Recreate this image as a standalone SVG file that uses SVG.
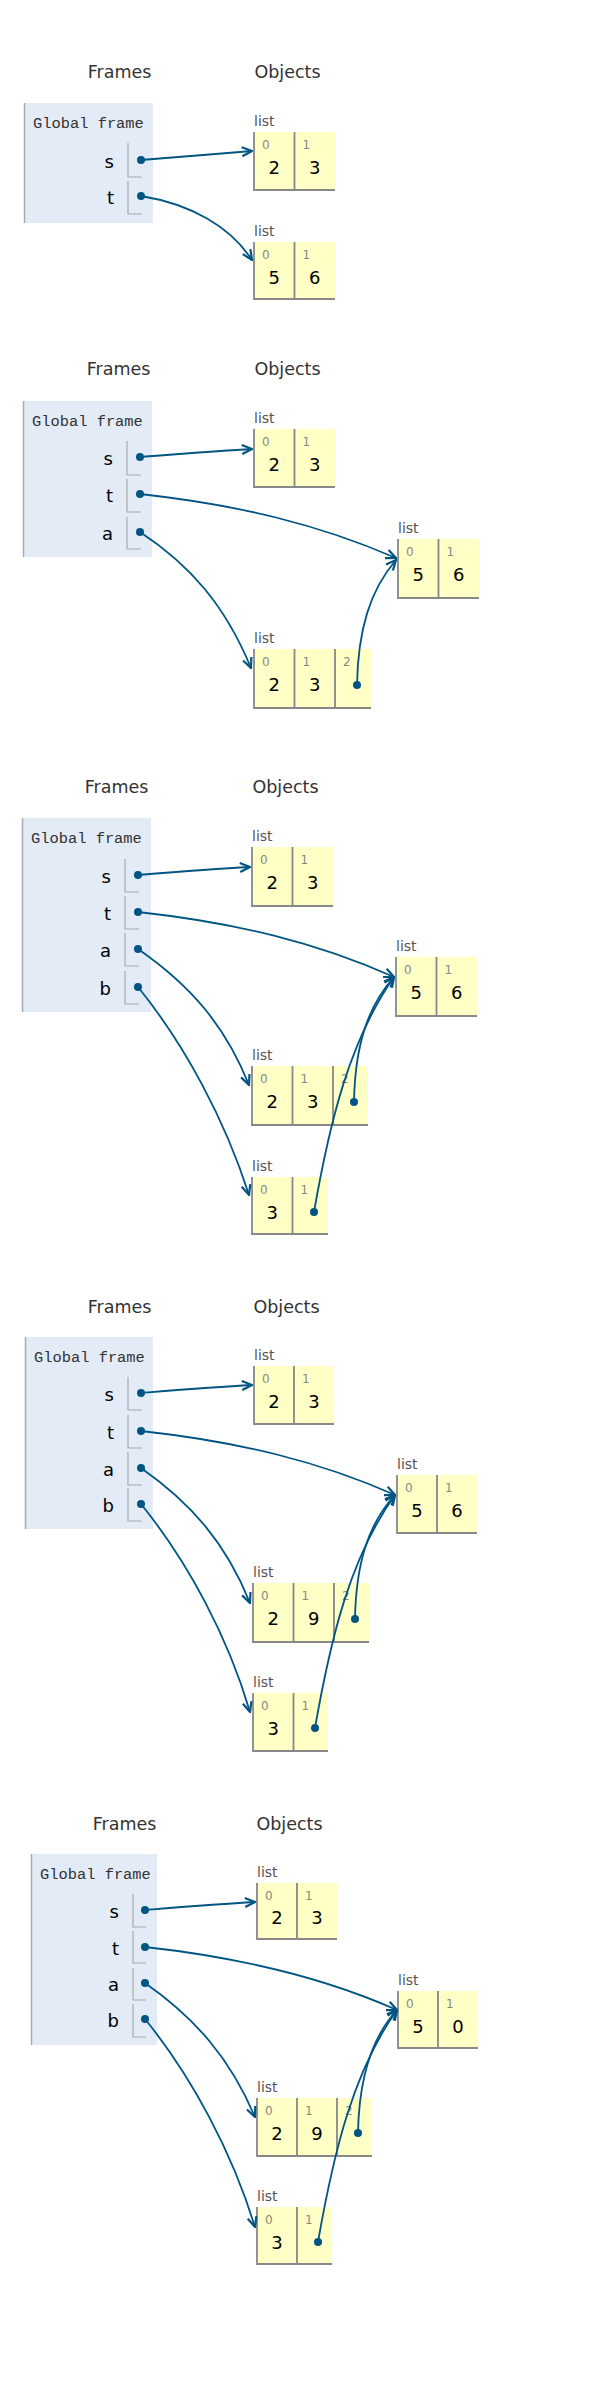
<svg xmlns="http://www.w3.org/2000/svg" width="600" height="2400" viewBox="0 0 600 2400">
<defs>
<marker id="arr" viewBox="0 0 12 12" refX="11" refY="6" markerWidth="12" markerHeight="12" markerUnits="userSpaceOnUse" orient="auto">
<path d="M1,1.5 L11,6 L1,10.5" fill="none" stroke="#005583" stroke-width="2.2" stroke-linejoin="miter"/>
</marker>
</defs>
<style>
.hdr{font-family:"DejaVu Sans",Verdana,sans-serif;font-size:17.5px;fill:#333;text-anchor:middle}
.gf{font-family:"Liberation Mono",monospace;font-size:15.4px;fill:#333}
.frame{fill:#e2ebf6}
.fl{stroke:#aaa;stroke-width:1.5}
.var{font-family:"DejaVu Sans",sans-serif;font-size:18px;fill:#000;text-anchor:end}
.vb{fill:none;stroke:#aaa;stroke-width:1.2}
.lbl{font-family:"DejaVu Sans",sans-serif;font-size:14px;fill:#555}
.cell{fill:#ffffc6}
.cb{fill:none;stroke:#888;stroke-width:1.8}
.idx{font-family:"DejaVu Sans",sans-serif;font-size:12px;fill:#888}
.val{font-family:"DejaVu Sans",sans-serif;font-size:18px;fill:#000;text-anchor:middle}
.ptr{fill:#005583}
.conn path{fill:none;stroke:#005583;stroke-width:1.8;marker-end:url(#arr)}
</style>
<rect width="600" height="2400" fill="#fff"/>

<!-- ================= Panel 1 ================= -->
<g id="p1-headers"><text class="hdr" x="119.5" y="78">Frames</text><text class="hdr" x="287.5" y="78">Objects</text></g>
<g id="p1-frame">
<rect class="frame" x="24" y="103" width="129" height="120"/><line class="fl" x1="24.5" y1="103" x2="24.5" y2="223"/>
<text class="gf" x="33" y="128">Global frame</text>
<text class="var" x="114" y="168">s</text><path class="vb" d="M128,143 V177 H142"/><circle class="ptr" cx="141" cy="160" r="4"/>
<text class="var" x="114" y="204">t</text><path class="vb" d="M128,181 V214 H142"/><circle class="ptr" cx="141" cy="196" r="4"/>
</g>
<g id="p1-list-s">
<text class="lbl" x="254" y="126">list</text>
<rect class="cell" x="254" y="132" width="81" height="58"/><path class="cb" d="M254,132 V190 H335 M294.5,132 V190"/>
<text class="idx" x="262" y="149">0</text><text class="idx" x="302.5" y="149">1</text>
<text class="val" x="274.25" y="174">2</text><text class="val" x="314.75" y="174">3</text>
</g>
<g id="p1-list-t">
<text class="lbl" x="254" y="236">list</text>
<rect class="cell" x="254" y="242" width="81" height="57"/><path class="cb" d="M254,242 V299 H335 M294.5,242 V299"/>
<text class="idx" x="262" y="259">0</text><text class="idx" x="302.5" y="259">1</text>
<text class="val" x="274.25" y="284">5</text><text class="val" x="314.75" y="284">6</text>
</g>
<g id="p1-connectors" class="conn">
<path d="M141,160 C180,157 215,154 252,151"/>
<path d="M141,196 C190,204 230,226 252,260"/>
</g>

<!-- ================= Panel 2 ================= -->
<g id="p2-headers"><text class="hdr" x="118.5" y="375">Frames</text><text class="hdr" x="287.5" y="375">Objects</text></g>
<g id="p2-frame">
<rect class="frame" x="23" y="401" width="129" height="156"/><line class="fl" x1="23.5" y1="401" x2="23.5" y2="557"/>
<text class="gf" x="32" y="426">Global frame</text>
<text class="var" x="113" y="465">s</text><path class="vb" d="M127,441 V475 H141"/><circle class="ptr" cx="140" cy="457" r="4"/>
<text class="var" x="113" y="502">t</text><path class="vb" d="M127,479 V512 H141"/><circle class="ptr" cx="140" cy="494" r="4"/>
<text class="var" x="113" y="540">a</text><path class="vb" d="M127,517 V549 H141"/><circle class="ptr" cx="140" cy="532" r="4"/>
</g>
<g id="p2-list-s">
<text class="lbl" x="254" y="423">list</text>
<rect class="cell" x="254" y="429" width="81" height="58"/><path class="cb" d="M254,429 V487 H335 M294.5,429 V487"/>
<text class="idx" x="262" y="446">0</text><text class="idx" x="302.5" y="446">1</text>
<text class="val" x="274.25" y="471">2</text><text class="val" x="314.75" y="471">3</text>
</g>
<g id="p2-list-t">
<text class="lbl" x="398" y="533">list</text>
<rect class="cell" x="398" y="539" width="81" height="59"/><path class="cb" d="M398,539 V598 H479 M438.5,539 V598"/>
<text class="idx" x="406" y="556">0</text><text class="idx" x="446.5" y="556">1</text>
<text class="val" x="418.25" y="581">5</text><text class="val" x="458.75" y="581">6</text>
</g>
<g id="p2-list-a">
<text class="lbl" x="254" y="643">list</text>
<rect class="cell" x="254" y="649" width="117" height="59"/><path class="cb" d="M254,649 V708 H371 M294.5,649 V708 M335,649 V708"/>
<text class="idx" x="262" y="666">0</text><text class="idx" x="302.5" y="666">1</text><text class="idx" x="343" y="666">2</text>
<text class="val" x="274.25" y="691">2</text><text class="val" x="314.75" y="691">3</text>
<circle class="ptr" cx="357" cy="685" r="4"/>
</g>
<g id="p2-connectors" class="conn">
<path d="M140,457 C180,454 215,451 252,449"/>
<path d="M140,494 C240,505 320,525 396,558"/>
<path d="M140,532 C190,565 225,605 251,668"/>
<path d="M357,685 C358,630 370,590 396,560"/>
</g>

<!-- ================= Panel 3 ================= -->
<g id="p3-headers"><text class="hdr" x="116.5" y="793">Frames</text><text class="hdr" x="285.5" y="793">Objects</text></g>
<g id="p3-frame">
<rect class="frame" x="22" y="818" width="129" height="194"/><line class="fl" x1="22.5" y1="818" x2="22.5" y2="1012"/>
<text class="gf" x="31" y="843">Global frame</text>
<text class="var" x="111" y="883">s</text><path class="vb" d="M125,859 V892 H139"/><circle class="ptr" cx="138" cy="875" r="4"/>
<text class="var" x="111" y="920">t</text><path class="vb" d="M125,896 V929 H139"/><circle class="ptr" cx="138" cy="912" r="4"/>
<text class="var" x="111" y="957">a</text><path class="vb" d="M125,933 V966 H139"/><circle class="ptr" cx="138" cy="949" r="4"/>
<text class="var" x="111" y="995">b</text><path class="vb" d="M125,971 V1004 H139"/><circle class="ptr" cx="138" cy="987" r="4"/>
</g>
<g id="p3-list-s">
<text class="lbl" x="252" y="841">list</text>
<rect class="cell" x="252" y="847" width="81" height="59"/><path class="cb" d="M252,847 V906 H333 M292.5,847 V906"/>
<text class="idx" x="260" y="864">0</text><text class="idx" x="300.5" y="864">1</text>
<text class="val" x="272.25" y="889">2</text><text class="val" x="312.75" y="889">3</text>
</g>
<g id="p3-list-t">
<text class="lbl" x="396" y="951">list</text>
<rect class="cell" x="396" y="957" width="81" height="59"/><path class="cb" d="M396,957 V1016 H477 M436.5,957 V1016"/>
<text class="idx" x="404" y="974">0</text><text class="idx" x="444.5" y="974">1</text>
<text class="val" x="416.25" y="999">5</text><text class="val" x="456.75" y="999">6</text>
</g>
<g id="p3-list-a">
<text class="lbl" x="252" y="1060">list</text>
<rect class="cell" x="252" y="1066" width="116" height="59"/><path class="cb" d="M252,1066 V1125 H368 M292.5,1066 V1125 M333,1066 V1125"/>
<text class="idx" x="260" y="1083">0</text><text class="idx" x="300.5" y="1083">1</text><text class="idx" x="341" y="1083">2</text>
<text class="val" x="272.25" y="1108">2</text><text class="val" x="312.75" y="1108">3</text>
<circle class="ptr" cx="354" cy="1102" r="4"/>
</g>
<g id="p3-list-b">
<text class="lbl" x="252" y="1171">list</text>
<rect class="cell" x="252" y="1177" width="76" height="57"/><path class="cb" d="M252,1177 V1234 H328 M292.5,1177 V1234"/>
<text class="idx" x="260" y="1194">0</text><text class="idx" x="300.5" y="1194">1</text>
<text class="val" x="272.25" y="1219">3</text>
<circle class="ptr" cx="314" cy="1212" r="4"/>
</g>
<g id="p3-connectors" class="conn">
<path d="M138,875 C175,872 212,869 250,867"/>
<path d="M138,912 C238,923 318,943 394,977"/>
<path d="M138,949 C190,985 225,1025 249,1085"/>
<path d="M138,987 C185,1045 225,1120 249,1195"/>
<path d="M354,1102 C355,1047 367,1007 394,977"/>
<path d="M314,1212 C330,1120 350,1040 394,977"/>
</g>

<!-- ================= Panel 4 ================= -->
<g id="p4-headers"><text class="hdr" x="119.5" y="1313">Frames</text><text class="hdr" x="286.5" y="1313">Objects</text></g>
<g id="p4-frame">
<rect class="frame" x="25" y="1337" width="128" height="192"/><line class="fl" x1="25.5" y1="1337" x2="25.5" y2="1529"/>
<text class="gf" x="34" y="1362">Global frame</text>
<text class="var" x="114" y="1401">s</text><path class="vb" d="M128,1377 V1410 H142"/><circle class="ptr" cx="141" cy="1393" r="4"/>
<text class="var" x="114" y="1439">t</text><path class="vb" d="M128,1415 V1448 H142"/><circle class="ptr" cx="141" cy="1431" r="4"/>
<text class="var" x="114" y="1476">a</text><path class="vb" d="M128,1452 V1485 H142"/><circle class="ptr" cx="141" cy="1468" r="4"/>
<text class="var" x="114" y="1512">b</text><path class="vb" d="M128,1488 V1521 H142"/><circle class="ptr" cx="141" cy="1504" r="4"/>
</g>
<g id="p4-list-s">
<text class="lbl" x="254" y="1360">list</text>
<rect class="cell" x="254" y="1366" width="80" height="58"/><path class="cb" d="M254,1366 V1424 H334 M294,1366 V1424"/>
<text class="idx" x="262" y="1383">0</text><text class="idx" x="302" y="1383">1</text>
<text class="val" x="274" y="1408">2</text><text class="val" x="314" y="1408">3</text>
</g>
<g id="p4-list-t">
<text class="lbl" x="397" y="1469">list</text>
<rect class="cell" x="397" y="1475" width="80" height="58"/><path class="cb" d="M397,1475 V1533 H477 M437,1475 V1533"/>
<text class="idx" x="405" y="1492">0</text><text class="idx" x="445" y="1492">1</text>
<text class="val" x="417" y="1517">5</text><text class="val" x="457" y="1517">6</text>
</g>
<g id="p4-list-a">
<text class="lbl" x="253" y="1577">list</text>
<rect class="cell" x="253" y="1583" width="116" height="59"/><path class="cb" d="M253,1583 V1642 H369 M293.5,1583 V1642 M334,1583 V1642"/>
<text class="idx" x="261" y="1600">0</text><text class="idx" x="301.5" y="1600">1</text><text class="idx" x="342" y="1600">2</text>
<text class="val" x="273.25" y="1625">2</text><text class="val" x="313.75" y="1625">9</text>
<circle class="ptr" cx="355" cy="1619" r="4"/>
</g>
<g id="p4-list-b">
<text class="lbl" x="253" y="1687">list</text>
<rect class="cell" x="253" y="1693" width="75" height="58"/><path class="cb" d="M253,1693 V1751 H328 M293.5,1693 V1751"/>
<text class="idx" x="261" y="1710">0</text><text class="idx" x="301.5" y="1710">1</text>
<text class="val" x="273.25" y="1735">3</text>
<circle class="ptr" cx="315" cy="1728" r="4"/>
</g>
<g id="p4-connectors" class="conn">
<path d="M141,1393 C178,1390 214,1387 252,1385"/>
<path d="M141,1431 C241,1442 321,1462 395,1495"/>
<path d="M141,1468 C191,1503 226,1543 250,1603"/>
<path d="M141,1504 C188,1562 228,1637 250,1712"/>
<path d="M355,1619 C356,1564 368,1524 395,1495"/>
<path d="M315,1728 C331,1636 351,1556 395,1495"/>
</g>

<!-- ================= Panel 5 ================= -->
<g id="p5-headers"><text class="hdr" x="124.5" y="1830">Frames</text><text class="hdr" x="289.5" y="1830">Objects</text></g>
<g id="p5-frame">
<rect class="frame" x="31" y="1854" width="126" height="191"/><line class="fl" x1="31.5" y1="1854" x2="31.5" y2="2045"/>
<text class="gf" x="40" y="1879">Global frame</text>
<text class="var" x="119" y="1918">s</text><path class="vb" d="M133,1894 V1927 H146"/><circle class="ptr" cx="145" cy="1910" r="4"/>
<text class="var" x="119" y="1955">t</text><path class="vb" d="M133,1931 V1963 H146"/><circle class="ptr" cx="145" cy="1947" r="4"/>
<text class="var" x="119" y="1991">a</text><path class="vb" d="M133,1968 V2000 H146"/><circle class="ptr" cx="145" cy="1983" r="4"/>
<text class="var" x="119" y="2027">b</text><path class="vb" d="M133,2004 V2037 H146"/><circle class="ptr" cx="145" cy="2019" r="4"/>
</g>
<g id="p5-list-s">
<text class="lbl" x="257" y="1877">list</text>
<rect class="cell" x="257" y="1883" width="80" height="56"/><path class="cb" d="M257,1883 V1939 H337 M297,1883 V1939"/>
<text class="idx" x="265" y="1900">0</text><text class="idx" x="305" y="1900">1</text>
<text class="val" x="277" y="1924">2</text><text class="val" x="317" y="1924">3</text>
</g>
<g id="p5-list-t">
<text class="lbl" x="398" y="1985">list</text>
<rect class="cell" x="398" y="1991" width="80" height="57"/><path class="cb" d="M398,1991 V2048 H478 M438,1991 V2048"/>
<text class="idx" x="406" y="2008">0</text><text class="idx" x="446" y="2008">1</text>
<text class="val" x="418" y="2033">5</text><text class="val" x="458" y="2033">0</text>
</g>
<g id="p5-list-a">
<text class="lbl" x="257" y="2092">list</text>
<rect class="cell" x="257" y="2098" width="115" height="58"/><path class="cb" d="M257,2098 V2156 H372 M297,2098 V2156 M337,2098 V2156"/>
<text class="idx" x="265" y="2115">0</text><text class="idx" x="305" y="2115">1</text><text class="idx" x="345" y="2115">2</text>
<text class="val" x="277" y="2140">2</text><text class="val" x="317" y="2140">9</text>
<circle class="ptr" cx="358" cy="2133" r="4"/>
</g>
<g id="p5-list-b">
<text class="lbl" x="257" y="2201">list</text>
<rect class="cell" x="257" y="2207" width="75" height="57"/><path class="cb" d="M257,2207 V2264 H332 M297,2207 V2264"/>
<text class="idx" x="265" y="2224">0</text><text class="idx" x="305" y="2224">1</text>
<text class="val" x="277" y="2249">3</text>
<circle class="ptr" cx="318" cy="2242" r="4"/>
</g>
<g id="p5-connectors" class="conn">
<path d="M145,1910 C182,1907 218,1904 255,1902"/>
<path d="M145,1947 C245,1958 325,1978 397,2010"/>
<path d="M145,1983 C195,2018 230,2058 255,2117"/>
<path d="M145,2019 C192,2077 232,2152 255,2227"/>
<path d="M358,2133 C359,2078 371,2038 397,2010"/>
<path d="M318,2242 C334,2150 354,2070 397,2010"/>
</g>
</svg>
